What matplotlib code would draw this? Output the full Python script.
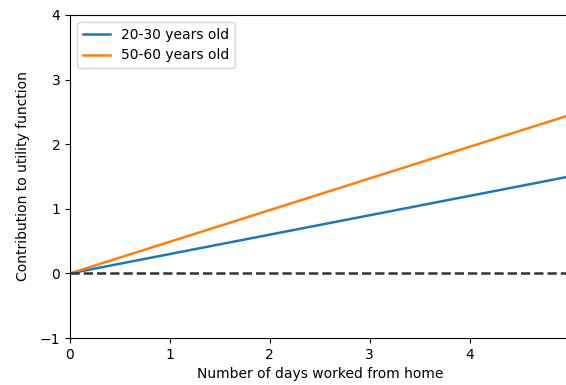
import numpy as np
import matplotlib
matplotlib.use('Agg')
import matplotlib.pyplot as plt

days = [0, 5]
utility_young = [0, 1.5]
utility_old = [0, 2.45]
baseline = [0, 0]


def main():
    fig = plt.figure(figsize=(5.66, 3.85), dpi=100)
    ax = fig.add_axes([70 / 566, (385 - 338) / 385, 499.5 / 566, 323 / 385])

    ax.plot(days, utility_young, color='#1f77b4', lw=1.8, label='20-30 years old')
    ax.plot(days, utility_old, color='#ff7f0e', lw=1.8, label='50-60 years old')
    ax.plot(days, baseline, color='#333333', lw=1.8, linestyle='--')

    ax.set_xlim(0, 5)
    ax.set_ylim(-1, 4)
    ax.set_xticks([0, 1, 2, 3, 4, 5])
    ax.set_yticks([-1, 0, 1, 2, 3, 4])
    ax.set_xlabel('Number of days worked from home')
    ax.set_ylabel('Contribution to utility function', labelpad=7)
    ax.legend(loc='upper left')

    fig.savefig('out.png', dpi=100)


if __name__ == '__main__':
    main()
